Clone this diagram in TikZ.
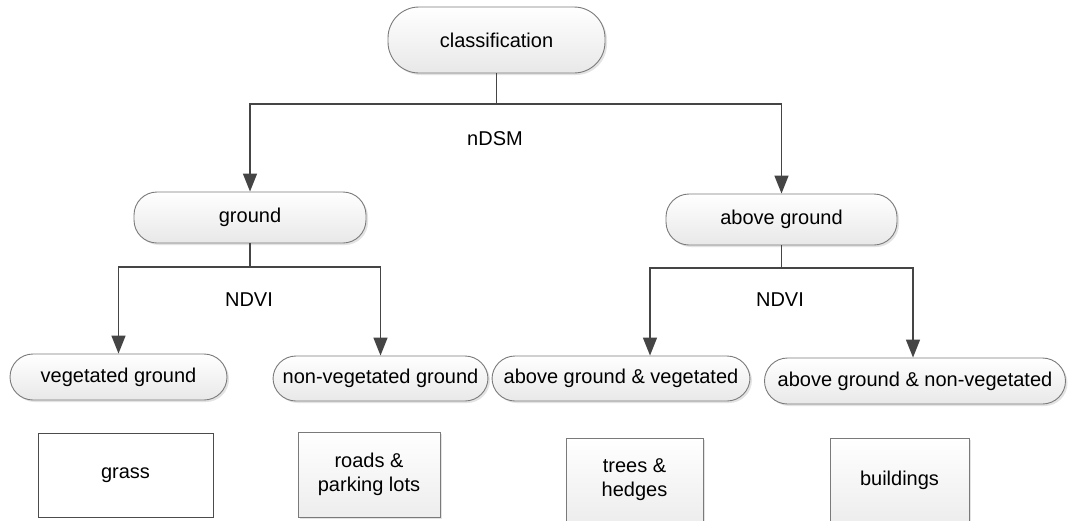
\documentclass[tikz,border=0pt]{standalone}
\usepackage{fontspec}
\setmainfont{Liberation Sans}
\usepackage{tikz}
\usetikzlibrary{arrows.meta,shadows}

\definecolor{linegray}{HTML}{454545}
\definecolor{edgegray}{HTML}{7A7A7A}

\tikzset{
  pill/.style={draw=edgegray,line width=0.9pt,rounded corners=23pt,
    top color=white,bottom color=black!9,
    drop shadow={shadow xshift=2pt,shadow yshift=-2pt,fill=black!22},
    font=\fontsize{20}{24}\selectfont,inner sep=2pt},
  leaf/.style={draw=edgegray,line width=0.9pt,
    top color=white,bottom color=black!7,
    drop shadow={shadow xshift=2pt,shadow yshift=-2pt,fill=black!22},
    font=\fontsize{20}{24}\selectfont,align=center},
  plainleaf/.style={draw=black!70,line width=1pt,fill=white,
    font=\fontsize{20}{24}\selectfont,align=center},
  lbl/.style={font=\fontsize{20}{24}\selectfont,inner sep=0pt},
  conn/.style={draw=linegray,line width=1.5pt},
  arr/.style={conn,-{Triangle[length=18pt,width=14pt]}}
}

\begin{document}
\begin{tikzpicture}[x=1pt,y=-1pt]
  \useasboundingbox (0,0) rectangle (1068,520);

% rounded class boxes
  \node[pill,rounded corners=31pt,minimum width=217pt,minimum height=66pt] (cls) at (496.5,40) {classification};
  \node[pill,minimum width=232pt,minimum height=51pt] (gnd)  at (250,217.5) {ground};
  \node[pill,minimum width=231pt,minimum height=51pt] (agnd) at (781.5,219.5) {above ground};
  \node[pill,minimum width=217pt,minimum height=46pt] (veg)    at (118.5,377) {vegetated ground};
  \node[pill,minimum width=215pt,minimum height=45pt] (nveg)   at (380.5,378.5) {non-vegetated ground};
  \node[pill,minimum width=258pt,minimum height=45pt] (agveg)  at (621,378.5) {above ground \& vegetated};
  \node[pill,minimum width=301pt,minimum height=46pt] (agnveg) at (915,381) {above ground \& non-vegetated};

% object boxes at bottom
  \node[plainleaf,minimum width=175pt,minimum height=84pt] (grass) at (125.5,475) {grass};
  \node[leaf,minimum width=142pt,minimum height=85pt] (roads) at (369,474.5) {roads \&\\parking lots};
  \node[leaf,minimum width=137pt,minimum height=84pt] (trees) at (634.5,480) {trees \&\\hedges};
  \node[leaf,minimum width=139pt,minimum height=84pt] (bldg)  at (899.5,480) {buildings};

% split labels
  \node[lbl] (ndsm)  at (495,139) {nDSM};
  \node[lbl] (ndvil) at (249,300) {NDVI};
  \node[lbl] (ndvir) at (780,300) {NDVI};

% branch points
  \coordinate (split0) at (496.5,104);
  \coordinate (split1) at (250,267);
  \coordinate (split2) at (781.5,268);

% connectors
  \draw[conn] (cls.south) -- (split0);
  \draw[arr]  (split0) -| (gnd.north);
  \draw[arr]  (split0) -| (agnd.north);
  \draw[conn] (gnd.south) -- (split1);
  \draw[arr]  (split1) -| (veg.north);
  \draw[arr]  (split1) -| (nveg.north);
  \draw[conn] (agnd.south) -- (split2);
  \draw[arr]  (split2) -| ([xshift=29pt]agveg.north);
  \draw[arr]  (split2) -| ([xshift=-2pt]agnveg.north);
\end{tikzpicture}
\end{document}
